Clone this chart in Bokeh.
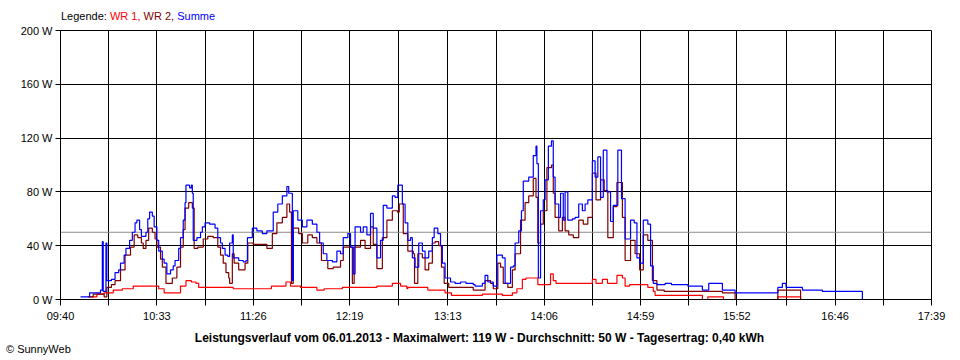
from bokeh.plotting import figure
from bokeh.models import Range1d, FixedTicker, PrintfTickFormatter, Span, Div
from bokeh.layouts import column
from bokeh.embed import file_html
from bokeh.resources import INLINE

# ---------------- data ----------------
tick_labels = ["09:40", "10:33", "11:26", "12:19", "13:13", "14:06", "14:59", "15:52", "16:46", "17:39"]
y_ticks = [0, 40, 80, 120, 160, 200]
average_w = 50

legend_parts = ["Legende:", "WR 1,", "WR 2,", "Summe"]
caption = "Leistungsverlauf vom 06.01.2013 - Maximalwert: 119 W - Durchschnitt: 50 W - Tagesertrag: 0,40 kWh"
copyright_text = "\u00a9 SunnyWeb"

# (minutes since midnight, watts)
summe = [(591, 2), (596, 5), (602, 7), (603, 43), (603.5, 6), (605, 42), (605.5, 14), (608, 15), (610, 20),
         (612, 22), (613, 27), (615, 33), (616, 38), (618, 44), (619.5, 50), (621, 57), (622, 59), (623.5, 52),
         (624.5, 47), (627, 50), (628, 60), (629, 65), (630.5, 62), (631.5, 54), (633, 44), (634, 36), (636, 30),
         (637, 27), (638.5, 19), (640.5, 22), (642, 25), (643, 29), (645, 38), (646, 46), (647.5, 59), (648.5, 72),
         (649, 85), (651, 83), (652, 85), (652.5, 79), (653, 44), (655, 46), (657, 50), (658, 54), (659.5, 57),
         (662, 56), (665, 53), (666.5, 46), (668, 42), (669, 38), (670.5, 33), (672, 32), (673, 42), (674.5, 48),
         (675, 31), (678, 29), (680.5, 28), (682, 29), (682.8, 46), (685.5, 53), (688, 51), (691, 49), (693.5, 51),
         (696.5, 51), (697, 65), (699.5, 71), (702, 77), (704.5, 84), (705.5, 79), (707.5, 14), (708, 66),
         (710.5, 59), (713, 54), (715.5, 59), (718.5, 56), (721, 50), (722.5, 42), (724.5, 34), (726.5, 29),
         (729.5, 28), (732, 36), (734, 34), (735.5, 46), (738, 49), (739.5, 39), (741, 19), (742, 54), (745, 50),
         (746.5, 54), (748.5, 48), (750.5, 64), (752, 53), (754, 31), (756, 44), (757.5, 70), (759.5, 68),
         (762.5, 77), (764, 76), (765.5, 85), (768, 71), (769.5, 57), (771, 44), (772.5, 46), (773.5, 31),
         (775, 24), (777, 42), (779, 36), (780.5, 31), (782.5, 36), (784.5, 46), (785.5, 53), (787.5, 49),
         (789, 40), (790, 27), (791.5, 16), (794.5, 13), (797, 12), (800, 13), (803, 12), (807, 11), (808, 10),
         (812, 12), (813.5, 18), (815, 13), (818, 10), (820, 33), (823, 31), (824.5, 12), (827.5, 24), (829, 25),
         (830, 42), (832, 51), (833.5, 66), (834.5, 88), (837.5, 91), (840, 107), (841.5, 114), (842, 101),
         (842.8, 16), (844, 66), (845.5, 74), (846.5, 89), (848.3, 114), (850, 118), (851, 91), (852, 71),
         (854, 61), (855, 79), (856.5, 59), (857.5, 80), (859, 59), (861.5, 60), (863, 61), (865, 71), (867, 66),
         (868.5, 71), (870, 74), (872.5, 103), (874, 91), (875.5, 106), (877, 76), (878.5, 111), (880.5, 80),
         (882.5, 58), (884, 70), (886.5, 111), (888.5, 75), (890.5, 45), (893.5, 59), (895.5, 57), (897, 31),
         (898.5, 27), (900.5, 59), (903, 56), (904.5, 25), (906, 12), (908, 11), (912.5, 12), (916, 11),
         (925, 10), (933, 7), (936.5, 12), (944, 7), (951, 5), (974.5, 9), (977, 12), (979, 9), (988, 7),
         (999, 6), (1021, 0)]

wr2 = [(596, 2), (598, 4), (604, 2), (605.5, 9), (608, 11), (610, 14), (613, 22), (615.5, 33), (618.5, 39),
       (620.5, 48), (622.5, 46), (624.5, 42), (625.5, 38), (627, 44), (628.5, 53), (630.5, 50), (632, 45),
       (633, 39), (635, 30), (636, 24), (638, 12), (641.5, 16), (644, 24), (646, 39), (647.5, 52), (648.5, 68),
       (650.5, 72), (652.5, 68), (653.5, 38), (655.5, 39), (658.5, 45), (661, 47), (664, 46), (666.5, 39),
       (668, 33), (669.5, 27), (671, 20), (672.5, 16), (673, 12), (674.5, 34), (675.5, 27), (678, 22),
       (680.5, 22), (681.5, 27), (683, 42), (686, 41), (690, 41), (693.5, 38), (696.5, 49), (699, 57), (702, 61),
       (704.5, 71), (706, 65), (707, 12), (708, 53), (711, 49), (713, 42), (716, 48), (718.5, 46), (721, 42),
       (723.5, 29), (727, 23), (730, 24), (734, 29), (735.5, 39), (740.5, 12), (741.5, 39), (745, 44),
       (747.5, 38), (750.5, 54), (752, 41), (754, 23), (757, 46), (759.5, 59), (762.5, 66), (765.3, 65),
       (766.3, 71), (768.5, 49), (771, 36), (774, 34), (774.7, 12), (776.5, 34), (779, 31), (780.5, 22),
       (782.5, 27), (784.5, 42), (786, 43), (788, 40), (789.5, 24), (791, 12), (793.5, 9), (807, 7),
       (813.5, 14), (816.5, 12), (818, 8), (820.5, 27), (822, 24), (823.5, 12), (826, 9), (828.5, 22),
       (830, 34), (833, 59), (835.5, 72), (837.5, 77), (840, 90), (841.5, 76), (842.5, 42), (844, 56),
       (845.5, 66), (847.5, 98), (850, 100), (851, 79), (852, 61), (854, 51), (856, 61), (857.5, 51),
       (859.5, 48), (862, 46), (865, 59), (867.5, 56), (870, 61), (872.5, 94), (874.5, 74), (877, 89),
       (879, 81), (881, 46), (884, 69), (886, 87), (889, 61), (890.5, 29), (893.5, 44), (896, 34), (898.5, 22),
       (900.5, 48), (903, 44), (905.5, 14), (908, 7), (912, 6), (944, 5), (951, 0), (974.5, 7), (987, 0)]

wr1 = [(595, 2), (600, 4), (604, 5), (609, 7), (614, 8), (620, 10), (630, 10), (634, 8), (637, 5), (646, 10),
       (649, 14), (652, 13), (654.5, 12), (656, 9), (675, 8), (690, 8), (696, 10), (704, 13), (706.5, 10),
       (712, 9), (721, 7), (725, 8), (735, 9), (754, 10), (762.5, 12), (767, 10), (770.5, 8), (771, 9),
       (782, 7), (791.5, 5), (795, 3), (812, 4), (823, 3), (828.5, 5), (831, 8), (834, 15), (836, 16),
       (842.5, 11), (849.5, 19), (851, 14), (852.5, 12), (872.5, 15), (874.5, 12), (878, 15), (880.8, 12),
       (886, 18), (889, 16), (890.5, 10), (893, 11), (903, 9), (906, 6), (907, 3), (933, 0), (936, 2),
       (944.6, 0), (974.5, 2), (987, 0)]


def to_min(s):
    h, m = s.split(":")
    return int(h) * 60 + int(m)


tick_pos = [to_min(s) for s in tick_labels]
mid_pos = [(a + b) / 2 for a, b in zip(tick_pos[:-1], tick_pos[1:])]

FONT = "Liberation Sans"
RED = "#ff0000"
DARKRED = "#800000"
BLUE = "#0000ff"
W = 952

p = figure(width=W, height=307, x_range=Range1d(tick_pos[0], tick_pos[-1]), y_range=Range1d(0, 200),
           output_backend="svg", toolbar_location=None,
           min_border_left=60, min_border_right=21, min_border_top=8, min_border_bottom=30)
p.background_fill_color = "white"
p.border_fill_color = "white"
p.outline_line_color = "black"

# x axis
xt = FixedTicker(ticks=tick_pos, minor_ticks=mid_pos)
p.xaxis.ticker = xt
p.xgrid.ticker = xt
p.xaxis.major_label_overrides = {t: s for t, s in zip(tick_pos, tick_labels)}
p.xaxis.major_tick_in = 0
p.xaxis.major_tick_out = 6
p.xaxis.minor_tick_in = 0
p.xaxis.minor_tick_out = 6
p.xaxis.minor_tick_line_color = "black"
p.xaxis.major_label_standoff = 4
p.xgrid.grid_line_color = "black"
p.xgrid.grid_line_alpha = 1
p.xgrid.minor_grid_line_color = "black"

# y axis
yt = FixedTicker(ticks=y_ticks)
p.yaxis.ticker = yt
p.ygrid.ticker = yt
p.yaxis.formatter = PrintfTickFormatter(format="%d W")
p.yaxis.major_tick_in = 0
p.yaxis.major_tick_out = 5
p.yaxis.minor_tick_line_color = None
p.yaxis.major_label_standoff = 3
p.ygrid.grid_line_color = "black"
p.ygrid.grid_line_alpha = 1

for ax in (p.xaxis[0], p.yaxis[0]):
    ax.axis_line_color = "black"
    ax.major_tick_line_color = "black"
    ax.major_label_text_font = FONT
    ax.major_label_text_font_size = "11px"
    ax.major_label_text_color = "black"

avg = Span(location=average_w, dimension="width", line_color="#8c8c8c", line_width=1, level="underlay")
p.add_layout(avg)

for series, col in ((wr1, RED), (wr2, DARKRED), (summe, BLUE)):
    xs = [a for a, b in series]
    ys = [b for a, b in series]
    p.step(xs, ys, mode="after", line_color=col, line_width=1.2)

# legend line above the plot
leg_cols = ["black", RED, DARKRED, BLUE]
spans = " ".join(f'<span style="color:{c}">{t}</span>' for t, c in zip(legend_parts, leg_cols))
top_html = (f'<div style="padding:10px 0 0 61px; font-family:\'{FONT}\'; font-size:11px; '
            f'line-height:13px; white-space:nowrap;">{spans}</div>')
top = Div(text=top_html, width=W, height=22, margin=0)

bottom_html = (f'<div style="width:959px; font-family:\'{FONT}\'; white-space:nowrap;">'
               f'<div style="padding-top:3px; width:959px; text-align:center; font-weight:bold; '
               f'font-size:12px; line-height:12px;">{caption}</div>'
               f'<div style="padding-left:6px; font-size:11px; line-height:11px;">{copyright_text}</div></div>')
bottom = Div(text=bottom_html, width=W, height=28, margin=0)

layout = column(top, p, bottom, spacing=0)
open("out.html", "w").write(file_html(layout, INLINE))
